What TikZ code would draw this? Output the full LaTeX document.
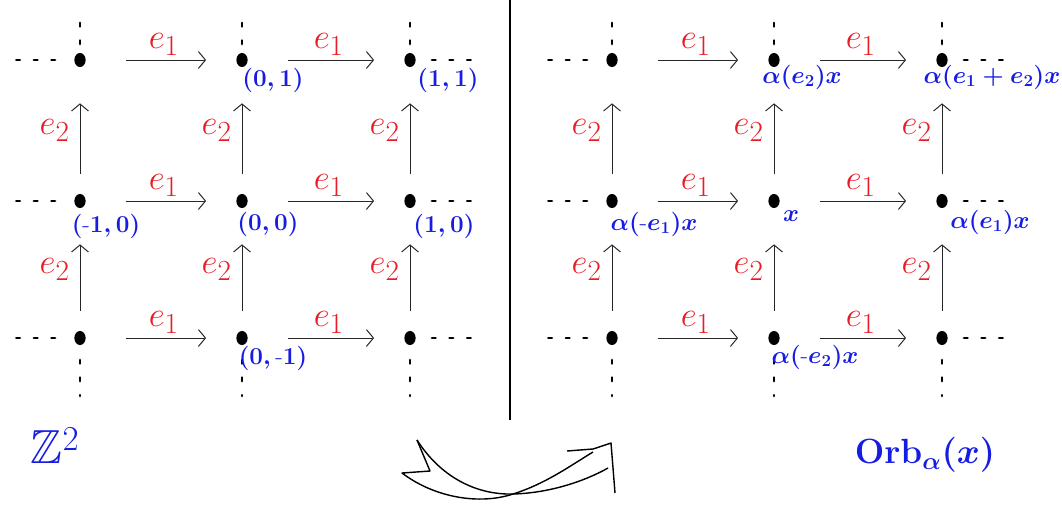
\documentclass[tikz,border=0pt]{standalone}
\usepackage{amsmath,amssymb}
\usetikzlibrary{arrows.meta, shapes.geometric}

\definecolor{penred}{RGB}{232,28,36}
\definecolor{penblue}{RGB}{22,28,225}

\begin{document}
\begin{tikzpicture}[x=0.025cm, y=-0.025cm,
  lattice/.style={ellipse, fill=black, inner sep=0pt, minimum width=8pt, minimum height=10pt},
  gen/.style={draw=black!85, line width=0.7pt, -{Straight Barb[length=5pt,width=12pt]}},
  etc/.style={line width=2pt, line cap=round, dash pattern=on 2.5pt off 10pt},
  lab/.style={text=penred, inner sep=1pt, font=\fontsize{28}{30}\selectfont},
  ptlabel/.style={text=penblue, inner sep=0pt, font=\fontsize{17.5}{19}\selectfont\boldmath},
  swoop/.style={line width=1pt, line join=round}]
  \useasboundingbox (0,0) rectangle (1062,507);

  % Lattice points, left (Z^2) and right (orbit)
  \foreach \name/\ox in {L/0, R/532} {
    \foreach \c/\x in {0/80, 1/242, 2/410} {
      \foreach \r/\y in {0/60, 1/201, 2/338} {
        \node[lattice] (\name\c\r) at (\ox+\x,\y) {};
      }
    }
  }

  % Generators e_1 and e_2
  \foreach \name in {L, R} {
    \foreach \r in {0, 1, 2} {
      \draw[gen, shorten <=1cm, shorten >=0.75cm] (\name0\r) -- node[lab, midway, above=2pt, xshift=2pt] (\name h0\r) {$e_1$} (\name1\r);
      \draw[gen, shorten <=1cm, shorten >=0.75cm] (\name1\r) -- node[lab, midway, above=2pt, xshift=2pt] (\name h1\r) {$e_1$} (\name2\r);
    }
    \foreach \c in {0, 1, 2} {
      \draw[gen, shorten <=0.5cm, shorten >=0.9cm] (\name\c1) -- node[lab, midway, left=6pt] (\name v\c0) {$e_2$} (\name\c0);
      \draw[gen, shorten <=0.5cm, shorten >=0.9cm] (\name\c2) -- node[lab, midway, left=6pt] (\name v\c1) {$e_2$} (\name\c1);
    }
    % ... and so on
    \foreach \r in {0, 1, 2} {
      \draw[etc] (\name0\r.center) ++(-25,0) -- ++(-42,0);
      \draw[etc] (\name2\r.center) ++(22,0) -- ++(44,0);
    }
    \foreach \c in {0, 1, 2} {
      \draw[etc] (\name\c0.center) ++(0,-16) -- ++(0,-32);
      \draw[etc] (\name\c2.center) ++(0,22) -- ++(0,36);
    }
  }

  % Coordinates in Z^2
  \node[ptlabel] (p01) at (273,80) {$(0,1)$};
  \node[ptlabel] (p11) at (448,80) {$(1,1)$};
  \node[ptlabel] (pm10) at (106,226) {$(\text{-}1,0)$};
  \node[ptlabel] (p00) at (268,224) {$(0,0)$};
  \node[ptlabel] (p10) at (444,226) {$(1,0)$};
  \node[ptlabel] (p0m1) at (273,358) {$(0,\text{-}1)$};

  % Orbit of x
  \node[ptlabel] (o01) at (802,77) {$\alpha(e_2)x$};
  \node[ptlabel] (o11) at (992,77) {$\alpha(e_1+e_2)x$};
  \node[ptlabel] (om10) at (654,224) {$\alpha(\text{-}e_1)x$};
  \node[ptlabel] (o00) at (791,216) {$x$};
  \node[ptlabel] (o10) at (990,222) {$\alpha(e_1)x$};
  \node[ptlabel] (o0m1) at (815,357) {$\alpha(\text{-}e_2)x$};

  % Separator
  \draw[line width=0.8pt] (510,0) -- (510,420);

  % Titles
  \node[text=penblue, font=\fontsize{34}{36}\selectfont] (zz) at (55,446) {$\mathbb{Z}^2$};
  \node[text=penblue, font=\fontsize{23}{25}\selectfont\boldmath] (orb) at (925,455) {$\mathrm{Orb}_\alpha(x)$};

  % Curved arrow
  \draw[swoop] (417,440) .. controls (440,476) and (475,495) .. (513,494)
    .. controls (550,493) and (585,481) .. (608,468);
  \draw[swoop] (417,440) -- (430,471) -- (402,473)
    .. controls (435,498) and (480,505) .. (513,494)
    .. controls (545,484) and (570,466) .. (593,452);
  \draw[swoop] (567,451) -- (593,449) -- (611,443) -- (615,493);
\end{tikzpicture}
\end{document}
